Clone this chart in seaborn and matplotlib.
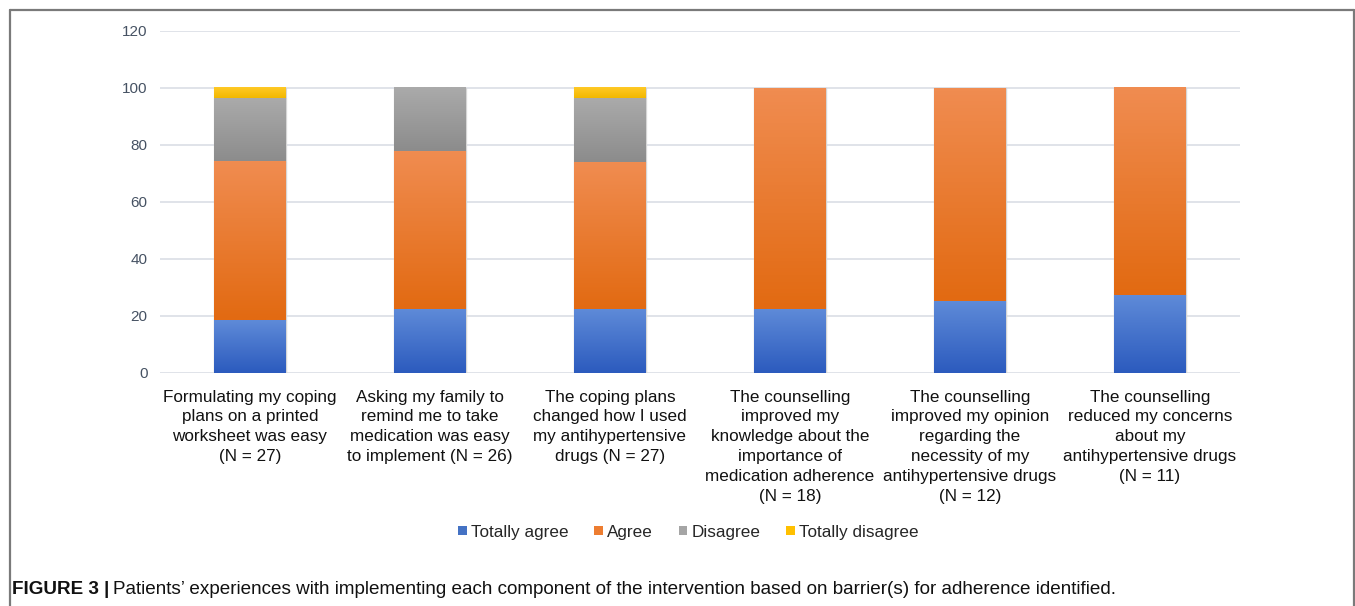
import numpy as np
import matplotlib.pyplot as plt
import seaborn as sns
from matplotlib.colors import LinearSegmentedColormap
from matplotlib.lines import Line2D
from matplotlib.patches import Patch

categories = [
    "Formulating my coping\nplans on a printed\nworksheet was easy\n(N = 27)",
    "Asking my family to\nremind me to take\nmedication was easy\nto implement (N = 26)",
    "The coping plans\nchanged how I used\nmy antihypertensive\ndrugs (N = 27)",
    "The counselling\nimproved my\nknowledge about the\nimportance of\nmedication adherence\n(N = 18)",
    "The counselling\nimproved my opinion\nregarding the\nnecessity of my\nantihypertensive drugs\n(N = 12)",
    "The counselling\nreduced my concerns\nabout my\nantihypertensive drugs\n(N = 11)",
]
series_names = ["Totally agree", "Agree", "Disagree", "Totally disagree"]
totally_agree = [18.5, 22.2, 22.2, 22.2, 25.0, 27.3]
agree = [55.6, 55.6, 51.9, 77.8, 75.0, 72.7]
disagree = [22.2, 22.2, 22.2, 0, 0, 0]
totally_disagree = [3.7, 0, 3.7, 0, 0, 0]
y_ticks = [0, 20, 40, 60, 80, 100, 120]

colors = ["#4472C4", "#ED7D31", "#A5A5A5", "#FFC000"]
grad = [("#2C5BBE", "#5E8AD8"), ("#E26A12", "#F08C50"),
        ("#8C8C8C", "#AAAAAA"), ("#F3B800", "#FFC926")]

sns.set_style("white")
plt.rcParams["font.family"] = ["Liberation Sans", "DejaVu Sans"]

fig = plt.figure(figsize=(13.55, 6.06), dpi=100)
ax = fig.add_axes([0.118, 0.3845, 0.797, 0.5645])

values = np.array([totally_agree, agree, disagree, totally_disagree])
cum = np.cumsum(values, axis=0)

# draw tallest stack first, each lower level on top of it
for k in range(3, -1, -1):
    sns.barplot(x=categories, y=cum[k], color=colors[k], saturation=1,
                width=0.4, edgecolor="#d6d6d6", linewidth=0.8, ax=ax, zorder=2)

# gradient fill for each visible segment
layers = list(range(3, -1, -1))
n = len(categories)
for li, k in enumerate(layers):
    cmap = LinearSegmentedColormap.from_list("g%d" % k, grad[k])
    for j, p in enumerate(ax.patches[li * n:(li + 1) * n]):
        top = cum[k][j]
        bot = cum[k - 1][j] if k > 0 else 0
        if top - bot <= 0.01:
            continue
        ax.imshow(np.linspace(0, 1, 64).reshape(-1, 1), cmap=cmap, origin="lower",
                  aspect="auto", zorder=3,
                  extent=(p.get_x(), p.get_x() + p.get_width(), bot, top))

ax.set_xlim(-0.5, n - 0.5)
ax.set_ylim(0, 120)
ax.set_yticks(y_ticks)
ax.yaxis.grid(True, color="#dde1e7", linewidth=1.3, zorder=0)
ax.set_axisbelow(True)
sns.despine(ax=ax, left=True, bottom=True)
ax.tick_params(axis="y", length=0, pad=9, labelsize=11, labelcolor="#465263")
ax.tick_params(axis="x", length=0, pad=12, labelsize=12.3, labelcolor="#111111")
for lab in ax.get_xticklabels():
    lab.set_linespacing(1.4)
ax.set_xlabel("")
ax.set_ylabel("")

handles = [Patch(facecolor=c, edgecolor="none") for c in colors]
fig.legend(handles, series_names, loc="center", bbox_to_anchor=(0.508, 0.122),
           ncol=4, frameon=False, fontsize=12.3, handlelength=0.5, handleheight=0.5,
           handletextpad=0.25, columnspacing=1.5)

# frame around chart (open at the bottom)
W, H = 1355, 606
lx, rx, ty = 9.5 / W, 1353.5 / W, 1 - 9.5 / H
for xs, ys in [([lx, lx], [0, ty]), ([lx, rx], [ty, ty]), ([rx, rx], [ty, 0])]:
    fig.add_artist(Line2D(xs, ys, transform=fig.transFigure, color="#7a7a7a", linewidth=1.6))

t1 = fig.text(12 / W, 1 - 589 / H, "FIGURE 3 |", fontsize=13.6, fontweight="bold",
              va="center", ha="left", color="#111111")
fig.canvas.draw()
bb = t1.get_window_extent().transformed(fig.transFigure.inverted())
fig.text(bb.x1 + 4 / W, 1 - 589 / H,
         "Patients\u2019 experiences with implementing each component of the intervention "
         "based on barrier(s) for adherence identified.",
         fontsize=13.6, va="center", ha="left", color="#111111")

fig.savefig("out.png", dpi=100)
